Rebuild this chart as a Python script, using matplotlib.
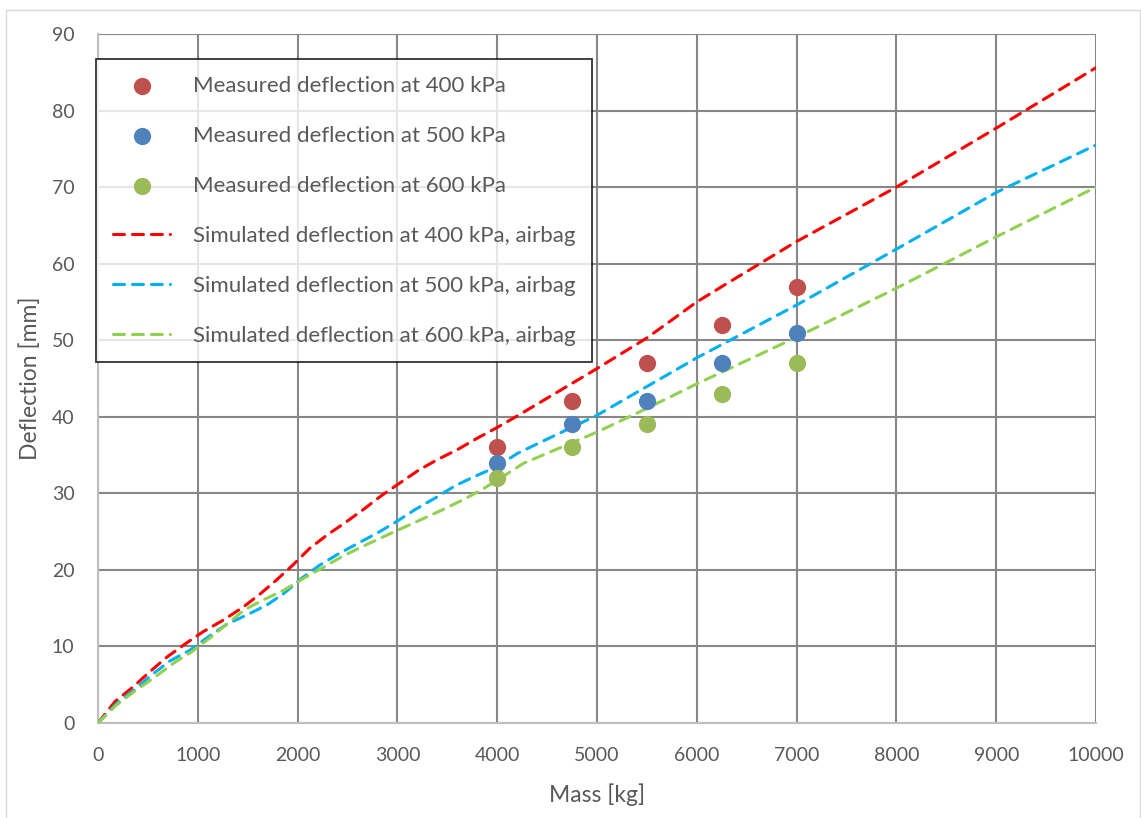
import matplotlib
matplotlib.use("Agg")
import matplotlib.pyplot as plt
from matplotlib.patches import Rectangle

# Measured deflections at the test masses
measured_mass = [4000, 4750, 5500, 6250, 7000]
measured_400 = [36, 42, 47, 52, 57]
measured_500 = [34, 39, 42, 47, 51]
measured_600 = [32, 36, 39, 43, 47]

# Simulated deflection curves (airbag model)
sim_mass_400 = [0, 170, 350, 520, 690, 870, 1050, 1250, 1450, 1620, 1790, 1950,
                2120, 2300, 2480, 2660, 2840, 3030, 3210, 3400, 3600, 3800, 4000,
                4200, 5000, 5500, 6000, 6250, 7000, 8000, 9000, 10000]
sim_400 = [0, 2.8, 4.7, 6.7, 8.6, 10.3, 11.9, 13.4, 15.1, 16.8, 18.7, 20.6,
           22.8, 24.6, 26.2, 27.9, 29.7, 31.4, 33.0, 34.4, 35.7, 37.2, 38.6,
           40.1, 46.3, 50.3, 55.0, 57.0, 62.9, 70.0, 77.7, 85.6]

sim_mass_500 = [0, 190, 370, 540, 720, 920, 1100, 1290, 1490, 1690, 1860, 2040,
                2220, 2410, 2610, 2810, 2990, 3180, 3380, 3580, 3790, 4000, 4200,
                5000, 6000, 7000, 8000, 9000, 10000]
sim_500 = [0, 2.6, 4.4, 6.3, 8.1, 9.5, 11.2, 12.9, 14.1, 15.4, 16.9, 18.9,
           20.6, 22.1, 23.5, 24.9, 26.3, 27.9, 29.4, 31.0, 32.3, 33.5, 35.2,
           40.2, 47.7, 54.6, 61.9, 69.3, 75.5]

sim_mass_600 = [0, 180, 371, 571, 755, 939, 1120, 1290, 1470, 1660, 1870, 2060,
                2240, 2440, 2640, 2840, 3040, 3260, 3460, 3680, 3860, 4000, 4260,
                5000, 5500, 6000, 7000, 8000, 9000, 10000]
sim_600 = [0, 2.3, 4.2, 6.0, 7.8, 9.3, 11.1, 12.9, 14.8, 16.1, 17.4, 18.9,
           20.2, 21.7, 23.0, 24.2, 25.4, 26.7, 27.9, 29.3, 30.6, 31.7, 33.9,
           38.0, 41.1, 44.3, 50.4, 56.8, 63.5, 70.0]

x_ticks = list(range(0, 10001, 1000))
y_ticks = list(range(0, 91, 10))

text_color = "#595959"
plt.rcParams["font.family"] = ["Lato", "DejaVu Sans"]

fig = plt.figure(figsize=(11.41, 8.18), dpi=100)
ax = fig.add_axes([98 / 1141, 1 - 723 / 818, (1096 - 98) / 1141, (723 - 34) / 818])

# Light outer frame of the chart area
fig.patches.append(Rectangle((6 / 1141, -0.02), (1140 - 6) / 1141, 1.02 - 10 / 818,
                             transform=fig.transFigure, fill=False,
                             edgecolor="#D9D9D9", linewidth=1.0))

ax.scatter(measured_mass, measured_400, s=130, color="#C0504D", zorder=4,
           label="Measured deflection at 400 kPa")
ax.scatter(measured_mass, measured_500, s=130, color="#4F81BD", zorder=4,
           label="Measured deflection at 500 kPa")
ax.scatter(measured_mass, measured_600, s=130, color="#9BBB59", zorder=4,
           label="Measured deflection at 600 kPa")

line_kw = dict(linewidth=2.2, dashes=(3.6, 2.6), dash_capstyle="round", zorder=3)
ax.plot(sim_mass_400, sim_400, color="#FF0000",
        label="Simulated deflection at 400 kPa, airbag", **line_kw)
ax.plot(sim_mass_500, sim_500, color="#00B0F0",
        label="Simulated deflection at 500 kPa, airbag", **line_kw)
ax.plot(sim_mass_600, sim_600, color="#92D050",
        label="Simulated deflection at 600 kPa, airbag", **line_kw)

ax.set_xlim(0, 10000)
ax.set_ylim(0, 90)
ax.set_xticks(x_ticks)
ax.set_yticks(y_ticks)
ax.grid(True, color="#878787", linewidth=1.5, zorder=1)
ax.set_axisbelow(True)
for side in ("top", "right"):
    ax.spines[side].set_visible(False)
for side in ("left", "bottom"):
    ax.spines[side].set_color("#BFBFBF")
    ax.spines[side].set_linewidth(1.5)
ax.tick_params(length=0, pad=17, labelsize=14, colors=text_color)

ax.set_xlabel("Mass [kg]", fontsize=16.5, color=text_color, labelpad=14)
ax.set_ylabel("Deflection [mm]", fontsize=16.5, color=text_color, labelpad=8)

leg = ax.legend(loc="upper left", bbox_to_anchor=(96 / 1141, 1 - 59 / 818),
                bbox_transform=fig.transFigure, frameon=True, fancybox=False,
                fontsize=16, labelspacing=1.35, handlelength=2.6,
                handletextpad=1.0, borderpad=0.75, borderaxespad=0,
                labelcolor=text_color, scatterpoints=1)
leg.get_frame().set_edgecolor("black")
leg.get_frame().set_linewidth(1.3)
leg.set_zorder(5)

fig.savefig("out.png", dpi=100)
